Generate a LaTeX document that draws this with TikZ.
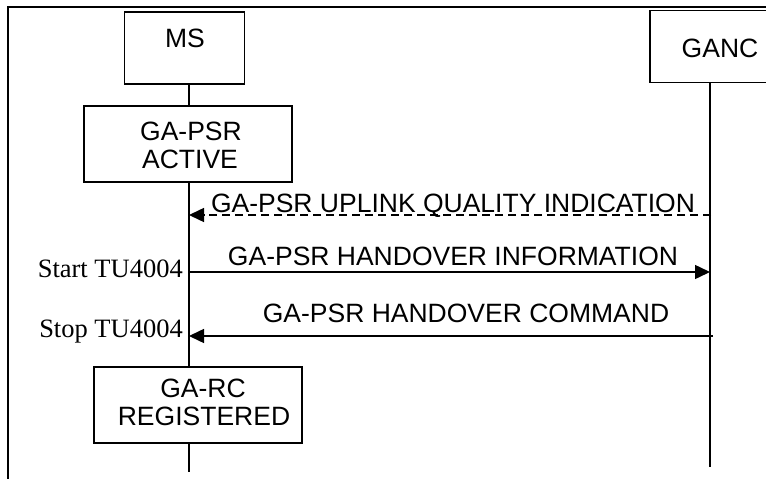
\documentclass[tikz,border=0pt]{standalone}
\usepackage{fontspec}
\setmainfont{Liberation Sans}
\newfontfamily\timesf{Liberation Serif}
\usetikzlibrary{arrows.meta}
\begin{document}
\begin{tikzpicture}[x=1pt,y=-1pt,
  every node/.style={font=\fontsize{26.5pt}{28pt}\selectfont, inner sep=0pt},
  box/.style={draw, line width=1.3pt, rectangle, inner sep=0pt},
  txt/.style={anchor=base},
  timer/.style={anchor=base east, font=\timesf\fontsize{26.5pt}{28pt}\selectfont},
  life/.style={line width=1.3pt},
  msg/.style={line width=1.5pt, -{Triangle[length=15pt,width=14pt]}},
  dmsg/.style={msg, dash pattern=on 8pt off 5pt}]
\useasboundingbox (0,0) rectangle (766,479);
\clip (0,0) rectangle (766,479);
\draw[line width=2pt] (8,7) rectangle (820,520);
% boxes
\node[box, minimum width=120pt, minimum height=72pt] (ms) at (184.3,48) {};
\node[txt] (mst) at (185,47) {MS};
\node[box, minimum width=150pt, minimum height=71.6pt] (ganc) at (725,46.5) {};
\node[txt] (ganct) at (720,57) {GANC};
\node[box, minimum width=208pt, minimum height=76pt] (psr) at (188,144) {};
\node[txt] (psr1) at (191,140) {GA-PSR};
\node[txt] (psr2) at (190,168) {ACTIVE};
\node[box, minimum width=208pt, minimum height=76pt] (garc) at (198,405) {};
\node[txt] (garc1) at (203,397) {GA-RC};
\node[txt] (garc2) at (204,425) {REGISTERED};
% lifelines
\coordinate (msx) at (189,0);
\coordinate (gx) at (710,0);
\coordinate (msend) at (189,472);
\coordinate (gend) at (710,467);
\draw[life] (ms.south -| msx) -- (psr.north -| msx);
\draw[life] (psr.south -| msx) -- (garc.north -| msx);
\draw[life] (garc.south -| msx) -- (msend);
\draw[life] (ganc.south -| gx) -- (gend);
% messages
\coordinate (m1g) at (711,215);
\coordinate (m1s) at (189,215);
\coordinate (m2s) at (189,272);
\coordinate (m2g) at (710,272);
\coordinate (m3g) at (713,336);
\coordinate (m3s) at (189,336);
\draw[dmsg] (m1g) -- (m1s);
\draw[msg] (m2s) -- (m2g);
\draw[msg] (m3g) -- (m3s);
\node[txt] (l1) at (453,212) {GA-PSR UPLINK QUALITY INDICATION};
\node[txt] (l2) at (453,265) {GA-PSR HANDOVER INFORMATION};
\node[txt] (l3) at (466,322) {GA-PSR HANDOVER COMMAND};
\node[timer] (t1) at (183,277) {Start TU4004};
\node[timer] (t2) at (183,337) {Stop TU4004};
\end{tikzpicture}
\end{document}
